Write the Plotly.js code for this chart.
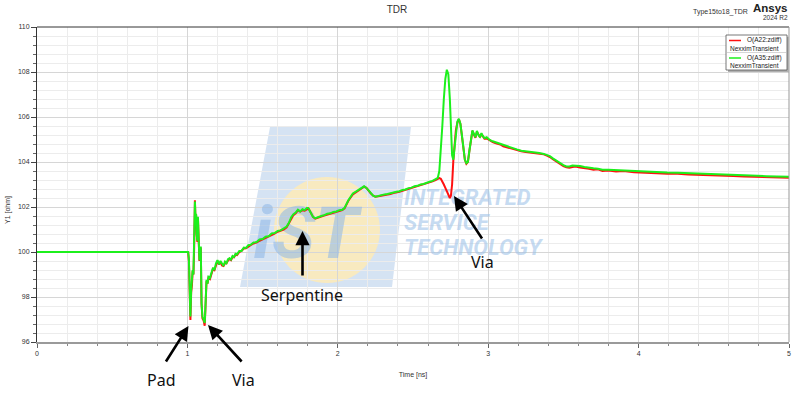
<!DOCTYPE html>
<html>
<head>
<meta charset="utf-8">
<script src="https://cdn.plot.ly/plotly-3.0.1.min.js"></script>
<style>html,body{margin:0;padding:0;background:#fff;}#chart{width:800px;height:413px;}</style>
</head>
<body>
<div id="chart"></div>
<script>
// ---------------- DATA ----------------
const timeNs = [
  0, 0.5, 1.005, 1.010, 1.015, 1.020, 1.025, 1.030, 1.035, 1.040, 1.045, 1.050, 1.054, 1.058, 1.062, 1.066, 1.070, 1.075, 1.080, 1.085, 1.089,
  1.094, 1.100, 1.108, 1.115, 1.120, 1.127, 1.134, 1.140, 1.150, 1.160, 1.170, 1.180, 1.190, 1.200, 1.210, 1.220, 1.230, 1.240, 1.250,
  1.260, 1.270, 1.280, 1.290, 1.300, 1.310, 1.320, 1.330, 1.345, 1.360, 1.375, 1.390, 1.405, 1.420, 1.440, 1.460, 1.480, 1.500, 1.520,
  1.540, 1.560, 1.580, 1.600, 1.620, 1.640, 1.660, 1.675, 1.690, 1.705, 1.720, 1.735, 1.750, 1.765, 1.780, 1.795, 1.805, 1.820, 1.835,
  1.850, 1.870, 1.890, 1.910, 1.930, 1.950, 1.970, 1.990, 2.010, 2.030, 2.045, 2.070, 2.100, 2.120, 2.140, 2.160, 2.175, 2.190, 2.205,
  2.220, 2.235, 2.250, 2.270, 2.290, 2.310, 2.330, 2.350, 2.370, 2.390, 2.410, 2.430, 2.450, 2.470, 2.490, 2.510, 2.530, 2.550, 2.570,
  2.590, 2.610, 2.630, 2.650, 2.665, 2.675, 2.685, 2.695, 2.705, 2.715, 2.725, 2.735, 2.745, 2.752, 2.760, 2.768, 2.776, 2.785, 2.795,
  2.805, 2.815, 2.825, 2.835, 2.845, 2.855, 2.865, 2.875, 2.885, 2.895, 2.905, 2.915, 2.925, 2.935, 2.945, 2.955, 2.965, 2.975, 2.990,
  3.010, 3.030, 3.056, 3.080, 3.100, 3.130, 3.160, 3.190, 3.220, 3.250, 3.280, 3.310, 3.340, 3.370, 3.390, 3.410, 3.430, 3.455, 3.480,
  3.500, 3.520, 3.540, 3.560, 3.580, 3.610, 3.640, 3.670, 3.700, 3.730, 3.760, 3.800, 3.850, 3.900, 3.970, 4.050, 4.120, 4.190, 4.260,
  4.330, 4.410, 4.480, 4.560, 4.630, 4.700, 4.780, 4.850, 4.920, 5.000
];

// O(A35:zdiff) - green
const zA35 = [
  100, 100, 100, 99.7, 98.8, 97.13, 98.3, 98.6, 99.2, 99.0, 100.24, 102.24, 101.4, 101.7, 100.8, 100.5, 101.57, 100.2, 99.64, 100.0, 100.24,
  97.72, 97.12, 97.0, 96.85, 97.57, 98.76, 98.6, 98.9, 98.85, 99.05, 99.3, 99.2, 99.5, 99.64, 99.45, 99.6, 99.45, 99.38, 99.57,
  99.5, 99.68, 99.72, 99.66, 99.82, 99.78, 99.92, 99.9, 100.05, 100.05, 100.2, 100.18, 100.3, 100.32, 100.42, 100.44, 100.56, 100.58, 100.68,
  100.7, 100.82, 100.84, 100.94, 100.96, 101.06, 101.13, 101.3, 101.55, 101.68, 101.75, 101.88, 101.8, 101.9, 101.86, 101.96, 101.94, 101.75, 101.56,
  101.5, 101.56, 101.6, 101.64, 101.7, 101.72, 101.78, 101.8, 101.86, 101.88, 101.96, 102.3, 102.6, 102.68, 102.78, 102.85, 102.92, 102.85, 102.72,
  102.6, 102.5, 102.46, 102.5, 102.52, 102.56, 102.58, 102.62, 102.64, 102.68, 102.7, 102.76, 102.78, 102.84, 102.86, 102.92, 102.94, 103.0, 103.02,
  103.08, 103.12, 103.16, 103.22, 103.3, 103.6, 104.5, 105.6, 106.8, 107.7, 108.1, 107.9, 106.8, 105.5, 104.3, 104.1, 104.6, 105.3, 105.8,
  105.92, 105.7, 105.2, 104.6, 104.1, 103.95, 104.0, 104.5, 105.0, 105.4, 105.25, 105.1, 105.38, 105.2, 105.12, 105.28, 105.15, 105.06, 105.1,
  104.98, 104.92, 104.86, 104.8, 104.74, 104.68, 104.62, 104.56, 104.5, 104.48, 104.46, 104.42, 104.4, 104.36, 104.32, 104.26, 104.16, 104.04, 103.94,
  103.86, 103.8, 103.8, 103.84, 103.84, 103.82, 103.78, 103.74, 103.72, 103.7, 103.66, 103.66, 103.64, 103.62, 103.6, 103.58, 103.55, 103.53, 103.52,
  103.5, 103.47, 103.46, 103.44, 103.42, 103.4, 103.38, 103.37, 103.36, 103.35
];

// O(A22:zdiff) - red
const zA22 = [
  100, 100, 100, 99.6, 98.7, 96.98, 98.2, 98.5, 99.15, 99.0, 100.2, 102.3, 101.4, 101.65, 100.8, 100.45, 101.5, 100.2, 99.6, 100.0, 100.2,
  97.7, 97.05, 96.95, 96.72, 97.5, 98.7, 98.6, 98.85, 98.8, 99.0, 99.25, 99.2, 99.45, 99.6, 99.45, 99.55, 99.4, 99.38, 99.5,
  99.5, 99.62, 99.7, 99.64, 99.78, 99.76, 99.88, 99.86, 100.0, 100.05, 100.15, 100.16, 100.25, 100.3, 100.38, 100.42, 100.5, 100.56, 100.64,
  100.68, 100.76, 100.82, 100.9, 100.94, 101.0, 101.1, 101.28, 101.5, 101.64, 101.72, 101.85, 101.8, 101.86, 101.84, 101.92, 101.94, 101.75, 101.56,
  101.48, 101.54, 101.58, 101.62, 101.66, 101.7, 101.74, 101.78, 101.82, 101.86, 101.94, 102.28, 102.56, 102.66, 102.75, 102.82, 102.9, 102.85, 102.7,
  102.6, 102.5, 102.46, 102.48, 102.5, 102.52, 102.56, 102.58, 102.62, 102.64, 102.68, 102.72, 102.76, 102.8, 102.84, 102.88, 102.92, 102.96, 103.0,
  103.04, 103.1, 103.14, 103.2, 103.26, 103.28, 103.25, 103.15, 103.0, 102.85, 102.7, 102.5, 102.4, 102.5, 103.0, 104.05, 104.8, 105.4, 105.75,
  105.9, 105.7, 105.2, 104.6, 104.1, 103.92, 104.0, 104.5, 105.0, 105.38, 105.22, 105.08, 105.35, 105.18, 105.1, 105.24, 105.12, 105.04, 105.05,
  104.95, 104.88, 104.82, 104.78, 104.7, 104.64, 104.6, 104.52, 104.48, 104.44, 104.42, 104.4, 104.36, 104.34, 104.28, 104.22, 104.12, 104.0, 103.9,
  103.82, 103.76, 103.74, 103.78, 103.8, 103.76, 103.74, 103.7, 103.66, 103.68, 103.6, 103.62, 103.58, 103.6, 103.55, 103.54, 103.5, 103.48, 103.48,
  103.44, 103.43, 103.42, 103.38, 103.38, 103.36, 103.34, 103.32, 103.33, 103.3
];

const seriesNames = ["O(A22:zdiff)", "O(A35:zdiff)"];
const solutionName = "NexximTransient";
const yTickVals = [96, 98, 100, 102, 104, 106, 108, 110];
const xTickVals = [0, 1, 2, 3, 4, 5];
const calloutLabels = ["Pad", "Via", "Serpentine", "Via"];
const watermarkLines = ["INTEGRATED", "SERVICE", "TECHNOLOGY"];

// ---------------- LAYOUT HELPERS ----------------
const W = 800, H = 413;
const M = {l: 37, r: 11, t: 27, b: 71};
const PW = W - M.l - M.r, PH = H - M.t - M.b;
const px = v => (v - M.l) / PW;          // pixel x -> paper x
const py = v => (H - M.b - v) / PH;      // pixel y -> paper y
const X_RANGE = [0, 5], Y_RANGE = [96, 110];
const dx = v => X_RANGE[0] + (v - M.l) / PW * (X_RANGE[1] - X_RANGE[0]);   // pixel -> data (watermark only)
const dy = v => Y_RANGE[0] + (H - M.b - v) / PH * (Y_RANGE[1] - Y_RANGE[0]);

const RED = "#ff1010", GREEN = "#1cf01c";
const FONT = "Liberation Sans, Arial, sans-serif";
const CALLOUT_FONT = {family: "Noto Sans, Open Sans, sans-serif", size: 16, color: "#111"};

// watermark text (drawn first, under the curves)
const wmColor = "rgba(160,195,233,0.6)";
const wmTrace = {
  type: "scatter", mode: "text", hoverinfo: "skip", showlegend: false,
  x: [dx(306), dx(404), dx(404), dx(404)],
  y: [dy(240), dy(199), dy(224), dy(249)],
  text: ["<b><i>iST</i></b>"].concat(watermarkLines.map(s => "<b><i>" + s + "</i></b>")),
  textposition: ["middle center", "middle right", "middle right", "middle right"],
  textfont: {family: "Roboto, Liberation Sans, sans-serif", size: [72, 22, 22, 22],
             color: ["rgba(140,182,230,0.55)", wmColor, wmColor, wmColor]},
  cliponaxis: false
};

const traces = [
  wmTrace,
  {type: "scatter", mode: "lines", name: seriesNames[0], x: timeNs, y: zA22,
   line: {color: RED, width: 2}, showlegend: false},
  {type: "scatter", mode: "lines", name: seriesNames[1], x: timeNs, y: zA35,
   line: {color: GREEN, width: 2}, showlegend: false}
];

const shapes = [
  // watermark blue panel
  {type: "path", xref: "paper", yref: "paper", layer: "below",
   path: `M ${px(270)} ${py(127)} L ${px(411)} ${py(127)} L ${px(392)} ${py(287)} L ${px(240)} ${py(287)} Z`,
   fillcolor: "rgba(190,212,237,0.65)", line: {width: 0}},
  // watermark yellow disc
  {type: "circle", xref: "paper", yref: "paper", layer: "below",
   x0: px(274), x1: px(380), y0: py(283), y1: py(177),
   fillcolor: "rgba(252,234,186,0.9)", line: {width: 0}},
  // top & right frame
  {type: "line", xref: "paper", yref: "paper", x0: 0, x1: 1, y0: 1, y1: 1, line: {color: "#333", width: 1}},
  {type: "line", xref: "paper", yref: "paper", x0: 1, x1: 1, y0: 0, y1: 1, line: {color: "#999", width: 1}},
  // legend box shadow + box
  {type: "rect", xref: "paper", yref: "paper", x0: px(728), x1: px(789), y0: py(72), y1: py(37),
   fillcolor: "#b0b0b0", line: {width: 0}},
  {type: "rect", xref: "paper", yref: "paper", x0: px(726), x1: px(787), y0: py(70), y1: py(35),
   fillcolor: "#ffffff", line: {color: "#555", width: 0.8}},
  {type: "line", xref: "paper", yref: "paper", x0: px(726), x1: px(787), y0: py(52.5), y1: py(52.5),
   line: {color: "#bbb", width: 0.6}},
  {type: "line", xref: "paper", yref: "paper", x0: px(729), x1: px(741), y0: py(40.5), y1: py(40.5),
   line: {color: RED, width: 1.5}},
  {type: "line", xref: "paper", yref: "paper", x0: px(729), x1: px(741), y0: py(58), y1: py(58),
   line: {color: GREEN, width: 1.5}}
];

const legFont = {family: FONT, size: 6.5, color: "#222"};
const annotations = [
  // legend texts
  {xref: "paper", yref: "paper", x: px(784), y: py(40.5), xanchor: "right", yanchor: "middle", showarrow: false, text: seriesNames[0], font: legFont},
  {xref: "paper", yref: "paper", x: px(728), y: py(48), xanchor: "left", yanchor: "middle", showarrow: false, text: solutionName, font: legFont},
  {xref: "paper", yref: "paper", x: px(784), y: py(58), xanchor: "right", yanchor: "middle", showarrow: false, text: seriesNames[1], font: legFont},
  {xref: "paper", yref: "paper", x: px(728), y: py(65.5), xanchor: "left", yanchor: "middle", showarrow: false, text: solutionName, font: legFont},
  // header right
  {xref: "paper", yref: "paper", x: px(720), y: py(12), xanchor: "center", yanchor: "middle", showarrow: false,
   text: "Type15to18_TDR", font: {family: FONT, size: 7, color: "#333"}},
  {xref: "paper", yref: "paper", x: px(790), y: py(8), xanchor: "right", yanchor: "middle", showarrow: false,
   text: "<b>Ansys</b>", font: {family: FONT, size: 11.5, color: "#222"}},
  {xref: "paper", yref: "paper", x: px(790), y: py(17.5), xanchor: "right", yanchor: "middle", showarrow: false,
   text: "2024 R2", font: {family: FONT, size: 6.5, color: "#333"}},
  // y axis title
  {xref: "paper", yref: "paper", x: px(8), y: py(210), xanchor: "center", yanchor: "middle", showarrow: false,
   textangle: -90, text: "Y1 [ohm]", font: {family: FONT, size: 7, color: "#333"}},
  // callout arrows
  {xref: "paper", yref: "paper", x: px(188.5), y: py(326), ax: 165 - 188.5, ay: 363 - 326, text: "", showarrow: true,
   arrowhead: 2, arrowsize: 1.1, arrowwidth: 2.6, arrowcolor: "#000", standoff: 0},
  {xref: "paper", yref: "paper", x: px(208), y: py(325), ax: 243 - 208, ay: 363 - 325, text: "", showarrow: true,
   arrowhead: 2, arrowsize: 1.1, arrowwidth: 2.6, arrowcolor: "#000", standoff: 0},
  {xref: "paper", yref: "paper", x: px(302.5), y: py(231), ax: 0, ay: 277 - 231, text: "", showarrow: true,
   arrowhead: 2, arrowsize: 1.1, arrowwidth: 2.6, arrowcolor: "#000", standoff: 0},
  {xref: "paper", yref: "paper", x: px(454), y: py(196), ax: 483 - 454, ay: 240 - 196, text: "", showarrow: true,
   arrowhead: 2, arrowsize: 1.1, arrowwidth: 2.6, arrowcolor: "#000", standoff: 0},
  // callout labels
  {xref: "paper", yref: "paper", x: px(161.5), y: py(380), xanchor: "center", yanchor: "middle", showarrow: false, text: calloutLabels[0], font: CALLOUT_FONT},
  {xref: "paper", yref: "paper", x: px(243.5), y: py(380), xanchor: "center", yanchor: "middle", showarrow: false, text: calloutLabels[1], font: CALLOUT_FONT},
  {xref: "paper", yref: "paper", x: px(302), y: py(295), xanchor: "center", yanchor: "middle", showarrow: false, text: calloutLabels[2], font: CALLOUT_FONT},
  {xref: "paper", yref: "paper", x: px(482), y: py(262), xanchor: "center", yanchor: "middle", showarrow: false, text: calloutLabels[3], font: CALLOUT_FONT}
];

const tickFont = {family: FONT, size: 7, color: "#333"};
const layout = {
  width: W, height: H,
  margin: M,
  paper_bgcolor: "#fff", plot_bgcolor: "#fff",
  showlegend: false,
  title: {text: "TDR", x: 397 / W, xref: "container", y: 1 - 9 / H, yref: "container", yanchor: "middle", xanchor: "center",
          font: {family: FONT, size: 10, color: "#333"}},
  xaxis: {
    range: X_RANGE, tickvals: xTickVals, ticktext: xTickVals.map(String),
    ticks: "outside", ticklen: 4, tickcolor: "#666", tickfont: tickFont,
    showgrid: true, gridcolor: "#d6d6d6", gridwidth: 1, zeroline: false,
    showline: true, linecolor: "#9a9a9a", linewidth: 2,
    minor: {dtick: 0.2, tick0: 0, showgrid: true, gridcolor: "#ececec", ticks: "outside", ticklen: 2, tickcolor: "#888"},
    title: {text: "Time [ns]", font: {family: FONT, size: 7, color: "#333"}, standoff: 16},
    fixedrange: true
  },
  yaxis: {
    range: Y_RANGE, tickvals: yTickVals, ticktext: yTickVals.map(String),
    ticks: "outside", ticklen: 5, tickcolor: "#444", tickfont: tickFont,
    showgrid: true, gridcolor: "#d6d6d6", gridwidth: 1, zeroline: false,
    showline: true, linecolor: "#333", linewidth: 1,
    minor: {dtick: 0.4, tick0: 96, showgrid: true, gridcolor: "#ececec", ticks: "outside", ticklen: 3, tickcolor: "#666"},
    fixedrange: true
  },
  shapes: shapes,
  annotations: annotations
};

Plotly.newPlot("chart", traces, layout, {staticPlot: true, displayModeBar: false});
</script>
</body>
</html>
